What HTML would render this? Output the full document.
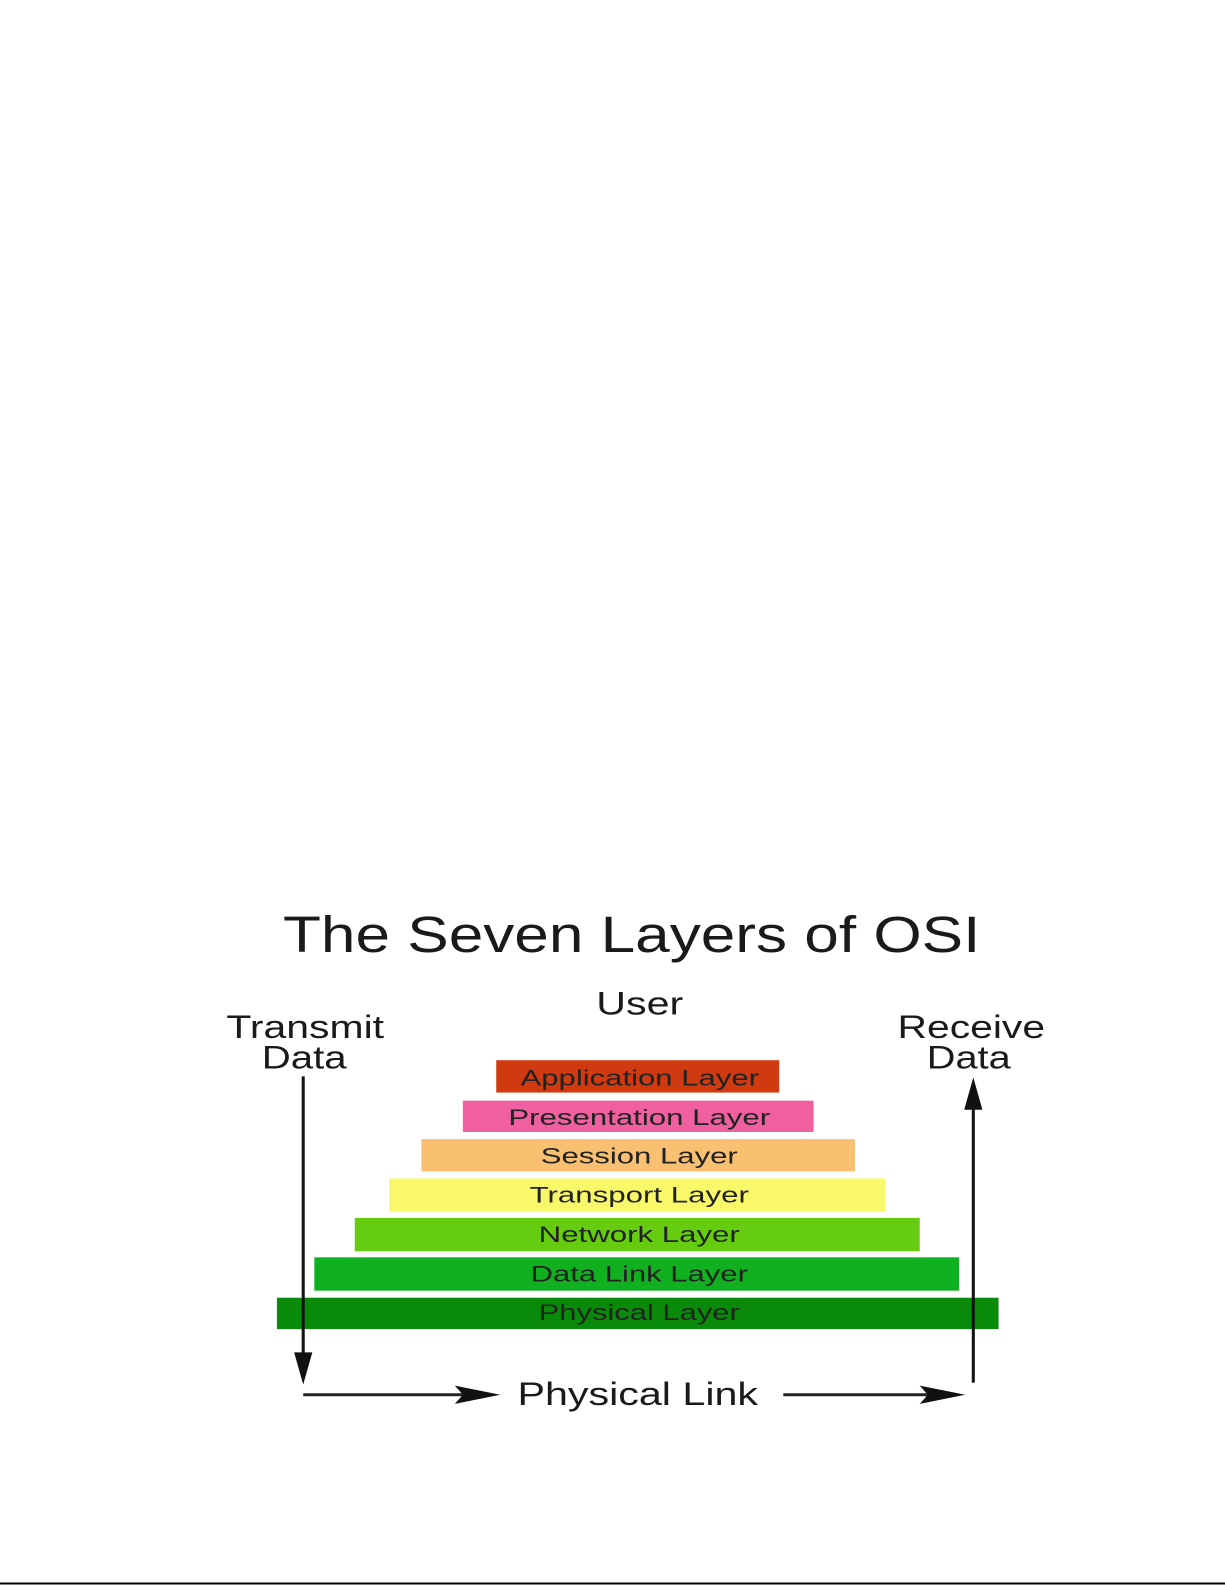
<!DOCTYPE html>
<html><head><meta charset="utf-8"><style>
html,body{margin:0;padding:0;background:#fff;width:1225px;height:1585px;overflow:hidden}
svg{display:block}
text{font-family:"Liberation Sans",sans-serif}
</style></head><body>
<svg width="1225" height="1585" viewBox="0 0 1225 1585" xmlns="http://www.w3.org/2000/svg">
<rect width="1225" height="1585" fill="#fff"/>
<g transform="scale(1.0107)">
<text x="280" y="942" font-size="50" fill="#1a1a1a" textLength="690" lengthAdjust="spacingAndGlyphs">The Seven Layers of OSI</text>
<text x="590" y="1004" font-size="32" fill="#1a1a1a" textLength="86" lengthAdjust="spacingAndGlyphs">User</text>
<text x="224" y="1027" font-size="32" fill="#1a1a1a" textLength="156" lengthAdjust="spacingAndGlyphs">Transmit</text>
<text x="259" y="1057" font-size="32" fill="#1a1a1a" textLength="84" lengthAdjust="spacingAndGlyphs">Data</text>
<text x="888" y="1027" font-size="32" fill="#1a1a1a" textLength="146" lengthAdjust="spacingAndGlyphs">Receive</text>
<text x="917" y="1057" font-size="32" fill="#1a1a1a" textLength="83" lengthAdjust="spacingAndGlyphs">Data</text>

<rect x="491" y="1049" width="280" height="32" fill="#d03a10"/>
<rect x="458" y="1089" width="347" height="31" fill="#f060a0"/>
<rect x="417" y="1127" width="429" height="32" fill="#f8c070"/>
<rect x="385" y="1166" width="491" height="33" fill="#f8f868"/>
<rect x="351" y="1205" width="559" height="33" fill="#66cc10"/>
<rect x="311" y="1244" width="638" height="33" fill="#10b020"/>
<rect x="274" y="1284" width="714" height="31" fill="#0a8a0a"/>

<g font-size="22" fill="#222">
<text x="515" y="1074" textLength="236" lengthAdjust="spacingAndGlyphs">Application Layer</text>
<text x="503" y="1113" textLength="259" lengthAdjust="spacingAndGlyphs">Presentation Layer</text>
<text x="535" y="1151" textLength="195" lengthAdjust="spacingAndGlyphs">Session Layer</text>
<text x="524" y="1190" textLength="217" lengthAdjust="spacingAndGlyphs">Transport Layer</text>
<text x="533" y="1229" textLength="199" lengthAdjust="spacingAndGlyphs">Network Layer</text>
<text x="525" y="1268" textLength="215" lengthAdjust="spacingAndGlyphs">Data Link Layer</text>
<text x="533" y="1306" textLength="199" lengthAdjust="spacingAndGlyphs">Physical Layer</text>
</g>

<line x1="300" y1="1065" x2="300" y2="1345" stroke="#111" stroke-width="3"/>
<polygon points="291,1338 309,1338 300,1370" fill="#111"/>
<line x1="963" y1="1095" x2="963" y2="1368" stroke="#111" stroke-width="3"/>
<polygon points="954,1098 972,1098 963,1066" fill="#111"/>
<line x1="300" y1="1380" x2="470" y2="1380" stroke="#222" stroke-width="3"/>
<polygon points="450,1371 495,1380 450,1389 458,1380" fill="#111"/>
<line x1="775" y1="1380" x2="930" y2="1380" stroke="#222" stroke-width="3"/>
<polygon points="910,1371 955,1380 910,1389 918,1380" fill="#111"/>
<text x="512" y="1390" font-size="32" fill="#1a1a1a" textLength="238" lengthAdjust="spacingAndGlyphs">Physical Link</text>
</g>
<line x1="0" y1="1583.5" x2="1225" y2="1583.5" stroke="#000" stroke-width="2"/>
</svg>
</body></html>
